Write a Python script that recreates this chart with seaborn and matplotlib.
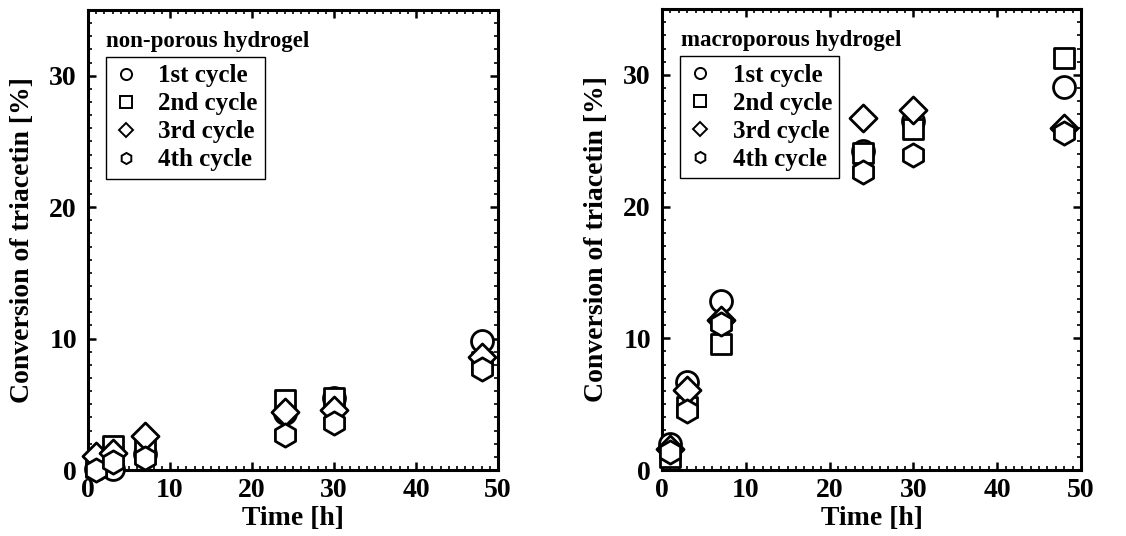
import numpy as np
import pandas as pd
import matplotlib
matplotlib.use("Agg")
import matplotlib.pyplot as plt
import seaborn as sns
from matplotlib.ticker import MultipleLocator
from matplotlib.lines import Line2D

# Reaction times [h]
time_h = [1, 3, 7, 24, 30, 48]
cycles = ["1st cycle", "2nd cycle", "3rd cycle", "4th cycle"]

# Conversion of triacetin [%], non-porous hydrogel
nonporous_1st = [0.1, 0.1, 1.2, 4.3, 5.5, 9.8]
nonporous_2nd = [0.2, 1.8, 1.7, 5.3, 5.5, 8.2]
nonporous_3rd = [1.1, 1.3, 2.6, 4.4, 4.6, 8.6]
nonporous_4th = [0.0, 0.6, 0.9, 2.7, 3.6, 7.7]

# Conversion of triacetin [%], macroporous hydrogel
macro_1st = [2.0, 6.7, 12.8, 24.2, 26.5, 29.1]
macro_2nd = [1.0, 4.8, 9.6, 24.1, 25.9, 31.3]
macro_3rd = [1.6, 6.1, 11.4, 26.7, 27.3, 26.0]
macro_4th = [1.4, 4.5, 11.1, 22.6, 23.9, 25.6]

panel_titles = ["non-porous hydrogel", "macroporous hydrogel"]
marker_map = {"1st cycle": "o", "2nd cycle": "s", "3rd cycle": "D", "4th cycle": "h"}


def long_frame(series):
    rows = []
    for cyc, vals in zip(cycles, series):
        for t, v in zip(time_h, vals):
            rows.append({"Time": t, "Conversion": v, "Cycle": cyc})
    return pd.DataFrame(rows)


df_np = long_frame([nonporous_1st, nonporous_2nd, nonporous_3rd, nonporous_4th])
df_mp = long_frame([macro_1st, macro_2nd, macro_3rd, macro_4th])

sns.set_theme(style="white")
plt.rcParams["font.family"] = ["Liberation Serif", "DejaVu Serif"]
plt.rcParams["font.weight"] = "bold"
plt.rcParams["axes.labelweight"] = "bold"
for key in ["text.color", "axes.labelcolor", "xtick.color", "ytick.color", "axes.edgecolor"]:
    plt.rcParams[key] = "black"

fig = plt.figure(figsize=(11.26, 5.36), dpi=100)
ax1 = fig.add_axes([88 / 1126, 66 / 536, 410 / 1126, 460 / 536])
ax2 = fig.add_axes([662 / 1126, 66 / 536, 419 / 1126, 461 / 536])

size_map = {"D": 190, "o": 250, "s": 220, "h": 280}

for ax, df, title in [(ax1, df_np, panel_titles[0]), (ax2, df_mp, panel_titles[1])]:
    for cyc in cycles:
        sub = df[df["Cycle"] == cyc]
        m = marker_map[cyc]
        sns.scatterplot(data=sub, x="Time", y="Conversion", marker=m, s=size_map[m],
                        facecolor="white", edgecolor="black", linewidth=2.0,
                        ax=ax, legend=False, clip_on=False, zorder=3)
    ax.set_xlim(0, 50)
    ax.set_ylim(0, 35)
    ax.xaxis.set_major_locator(MultipleLocator(10))
    ax.xaxis.set_minor_locator(MultipleLocator(1))
    ax.yaxis.set_major_locator(MultipleLocator(10))
    ax.yaxis.set_minor_locator(MultipleLocator(1))
    ax.tick_params(which="both", direction="in", top=True, right=True,
                   bottom=True, left=True, color="black")
    ax.tick_params(which="major", length=6, width=1.8, labelsize=20)
    ax.tick_params(axis="y", which="major", pad=8)
    ax.tick_params(axis="x", which="major", pad=6)
    ax.tick_params(which="minor", length=3, width=1.2)
    for lab in ax.get_xticklabels() + ax.get_yticklabels():
        lab.set_fontweight("bold")
    for sp in ax.spines.values():
        sp.set_linewidth(2.2)
        sp.set_color("black")
    ax.set_xlabel("Time [h]", fontsize=20, fontweight="bold", labelpad=2)
    ax.set_ylabel("Conversion of triacetin [%]", fontsize=20, fontweight="bold", labelpad=10)

    handles = [Line2D([], [], linestyle="none", marker=marker_map[c],
                      markersize=8 if marker_map[c] != "D" else 7,
                      markerfacecolor="white", markeredgecolor="black", markeredgewidth=1.4)
               for c in cycles]
    leg = ax.legend(handles, cycles, loc="upper left", bbox_to_anchor=(0.043, 0.898),
                    frameon=True, fancybox=False, edgecolor="black", framealpha=1,
                    prop={"family": "Liberation Serif", "weight": "bold", "size": 18},
                    handlelength=1.0, handletextpad=0.8, labelspacing=0.2,
                    borderpad=0.3, borderaxespad=0.0)
    leg.get_frame().set_linewidth(1.0)
    ax.text(0.045, 0.932, title, transform=ax.transAxes, ha="left", va="center",
            fontsize=16.5, fontweight="bold")

fig.savefig("out.png", dpi=100)
